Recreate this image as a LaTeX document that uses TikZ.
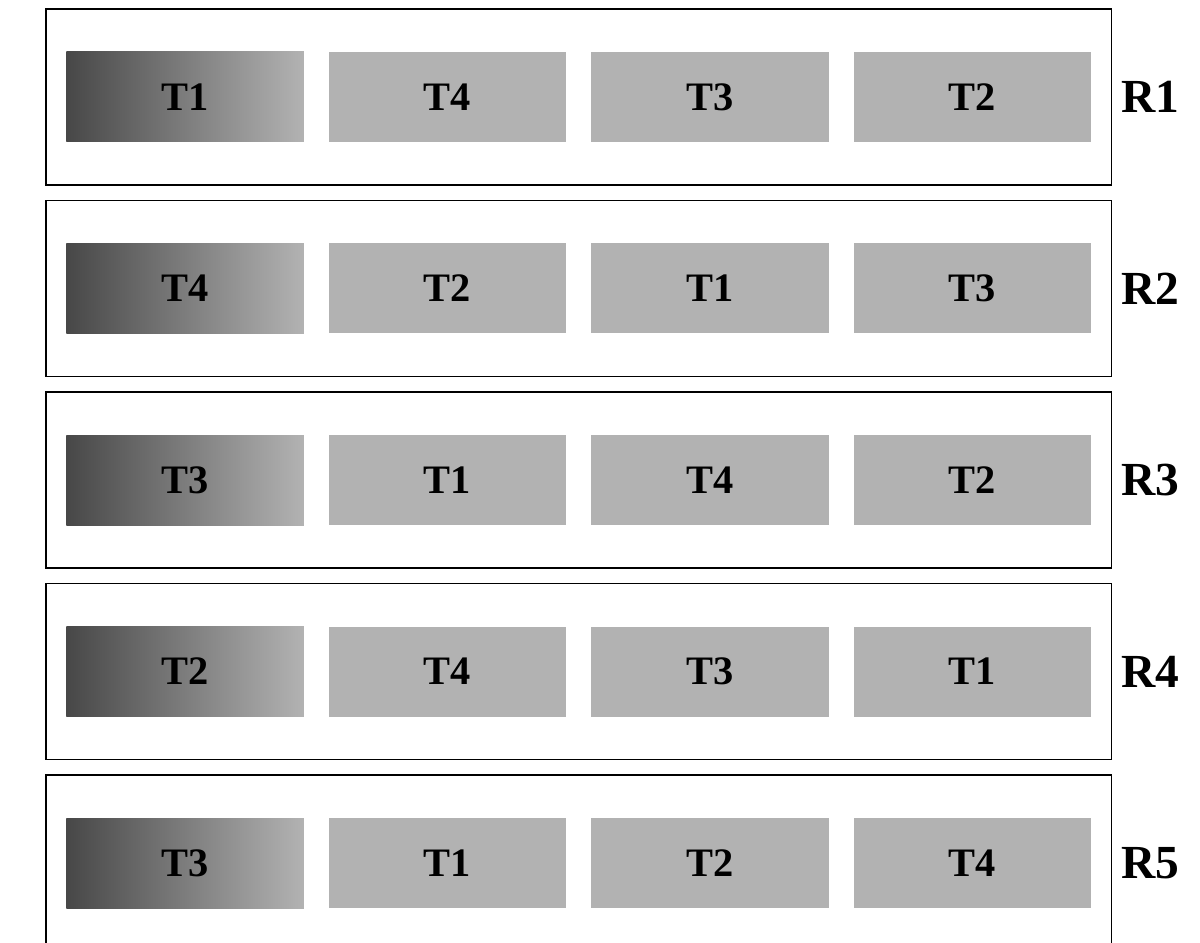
\documentclass[tikz,border=0pt]{standalone}
\usepackage{fontspec}
\setmainfont{Liberation Serif}
\usetikzlibrary{positioning,fit}

\begin{document}
\begin{tikzpicture}[
  tile/.style={minimum width=4.75cm, minimum height=1.8cm, fill=black!30,
               font=\fontsize{23}{26}\selectfont\bfseries},
  firsttile/.style={tile, left color=black!72, right color=black!30},
  rowbox/.style={draw=black, line width=0.9pt, inner xsep=4mm, inner ysep=8.5mm},
  rlab/.style={font=\fontsize{27}{30}\selectfont\bfseries},
]
\useasboundingbox (0,0) rectangle (24,-18.86);

% ---- five rows, four tiles each ----
\foreach [count=\r] \order in {{1,4,3,2},{4,2,1,3},{3,1,4,2},{2,4,3,1},{3,1,2,4}} {
  \foreach [count=\c] \t in \order {
    \ifnum\c=1
      \node[firsttile] (t\r\c) at (3.7 + 5.25*\c - 5.25, -1.94 - 3.83*\r + 3.83) {T\t};
    \else
      \node[tile] (t\r\c) at (3.7 + 5.25*\c - 5.25, -1.94 - 3.83*\r + 3.83) {T\t};
    \fi
  }
  \node[rowbox, fit=(t\r1)(t\r4)] (row\r) {};
  \node[rlab, right=0.5mm of row\r] (lab\r) {R\r};
}

\end{tikzpicture}
\end{document}
